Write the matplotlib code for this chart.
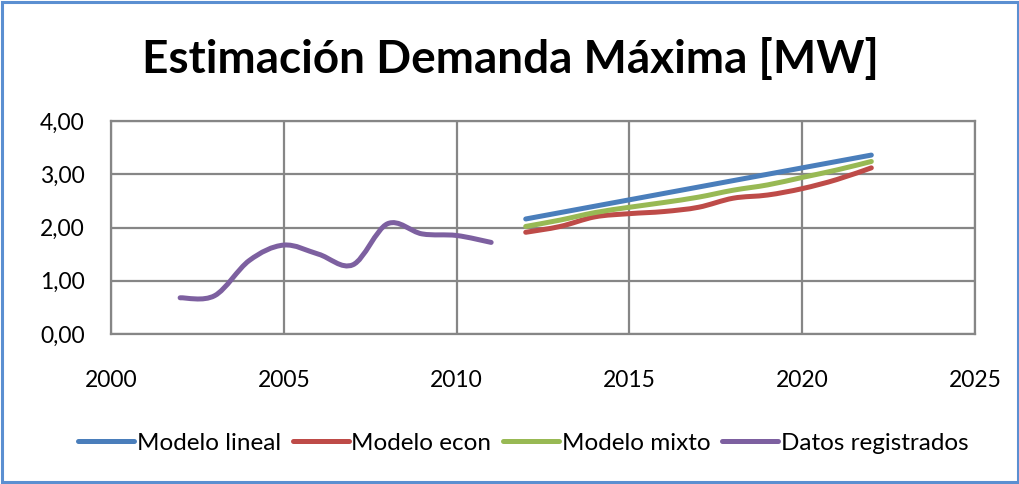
import matplotlib
matplotlib.use("Agg")
import matplotlib.pyplot as plt
from matplotlib.path import Path
from matplotlib.patches import PathPatch, Rectangle
from matplotlib.lines import Line2D

plt.rcParams['font.family'] = ['Lato', 'DejaVu Sans']

title = "Estimación Demanda Máxima [MW]"

years_model = [2012, 2013, 2014, 2015, 2016, 2017, 2018, 2019, 2020, 2021, 2022]
modelo_lineal = [2.16, 2.28, 2.40, 2.52, 2.64, 2.76, 2.88, 3.00, 3.12, 3.24, 3.36]
modelo_econ = [1.91, 2.02, 2.20, 2.26, 2.30, 2.38, 2.55, 2.61, 2.73, 2.90, 3.12]
modelo_mixto = [2.02, 2.14, 2.28, 2.38, 2.47, 2.57, 2.70, 2.80, 2.94, 3.08, 3.24]

years_data = [2002, 2003, 2004, 2005, 2006, 2007, 2008, 2009, 2010, 2011]
datos_registrados = [0.68, 0.72, 1.38, 1.67, 1.50, 1.30, 2.07, 1.88, 1.85, 1.72]

series_names = ["Modelo lineal", "Modelo econ", "Modelo mixto", "Datos registrados"]
series_colors = ["#4A7EBB", "#BE4B48", "#98B954", "#7D60A0"]

x_ticks = [2000, 2005, 2010, 2015, 2020, 2025]
y_ticks = [0, 1, 2, 3, 4]
y_tick_labels = ["0,00", "1,00", "2,00", "3,00", "4,00"]


def smooth_path(xs, ys):
    pts = list(zip(xs, ys))
    n = len(pts)
    verts = [pts[0]]
    codes = [Path.MOVETO]
    for i in range(n - 1):
        p0 = pts[i - 1] if i > 0 else pts[i]
        p1 = pts[i]
        p2 = pts[i + 1]
        p3 = pts[i + 2] if i + 2 < n else pts[i + 1]
        c1 = (p1[0] + (p2[0] - p0[0]) / 6, p1[1] + (p2[1] - p0[1]) / 6)
        c2 = (p2[0] - (p3[0] - p1[0]) / 6, p2[1] - (p3[1] - p1[1]) / 6)
        verts += [c1, c2, p2]
        codes += [Path.CURVE4] * 3
    return Path(verts, codes)


fig = plt.figure(figsize=(10.2, 4.84), dpi=100)
ax = fig.add_axes([111 / 1020, 1 - 334 / 484, (975 - 111) / 1020, (334 - 121) / 484])

lw = 3.6
all_series = [(years_model, modelo_lineal), (years_model, modelo_econ),
              (years_model, modelo_mixto), (years_data, datos_registrados)]
for (xs, ys), c in zip(all_series, series_colors):
    patch = PathPatch(smooth_path(xs, ys), facecolor='none', edgecolor=c,
                      lw=lw, capstyle='round', joinstyle='round', zorder=3)
    ax.add_patch(patch)

ax.set_xlim(2000, 2025)
ax.set_ylim(0, 4)
ax.set_xticks(x_ticks)
ax.set_xticklabels([str(v) for v in x_ticks])
ax.set_yticks(y_ticks)
ax.set_yticklabels(y_tick_labels)
ax.tick_params(length=0, labelsize=16.5, colors='black')
ax.tick_params(axis='x', pad=26)
ax.tick_params(axis='y', pad=19)
ax.grid(True, color='#868686', lw=1.6)
ax.set_axisbelow(True)
for s in ax.spines.values():
    s.set_color('#868686')
    s.set_linewidth(1.6)

fig.text(0.5, 1 - 60 / 484, title, ha='center', va='center',
         fontsize=33, fontweight='bold')

handles = [Line2D([0], [0], color=c, lw=lw, solid_capstyle='round') for c in series_colors]
fig.legend(handles, series_names, loc='center', bbox_to_anchor=(0.513, 1 - 443 / 484),
           ncol=4, frameon=False, fontsize=17.5, handlelength=2.3,
           handletextpad=0.1, columnspacing=0.5)

fig.add_artist(Rectangle((2 / 1020, 2 / 484), 1016 / 1020, 480 / 484,
                         transform=fig.transFigure, fill=False,
                         edgecolor='#5B8FD1', lw=2.2))

fig.savefig("out.png", dpi=100)
